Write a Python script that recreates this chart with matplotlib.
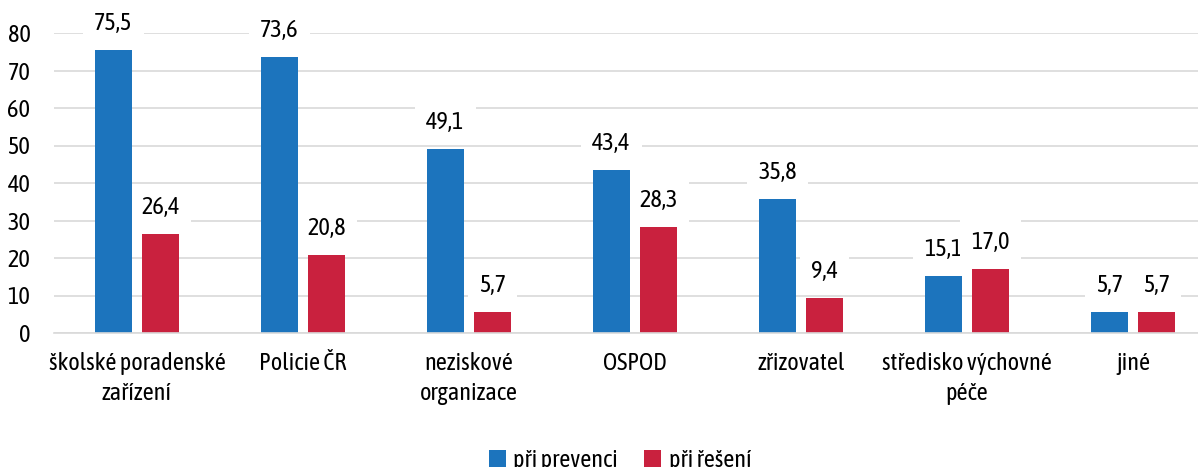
import matplotlib.pyplot as plt
import numpy as np

plt.rcParams['font.family'] = ['Asap Condensed', 'DejaVu Sans']

categories = ["školské poradenské\nzařízení", "Policie ČR", "neziskové\norganizace",
              "OSPOD", "zřizovatel", "středisko výchovné\npéče", "jiné"]
prevence = [75.5, 73.6, 49.1, 43.4, 35.8, 15.1, 5.7]
reseni = [26.4, 20.8, 5.7, 28.3, 9.4, 17.0, 5.7]
series_names = ["při prevenci", "při řešení"]

blue = "#1C74BD"
red = "#C9213E"

fig = plt.figure(figsize=(11.98, 4.67), dpi=100)
ax = fig.add_axes([54 / 1198, 134 / 467, 1162 / 1198, 300 / 467])

x = np.arange(len(categories))
w = 0.223
off = 0.1416
b1 = ax.bar(x - off, prevence, w, color=blue, label=series_names[0], zorder=2)
b2 = ax.bar(x + off, reseni, w, color=red, label=series_names[1], zorder=2)

# value labels with white box over the gridlines
for bars, vals in ((b1, prevence), (b2, reseni)):
    for rect, v in zip(bars, vals):
        ax.annotate(f"{v:.1f}".replace(".", ","),
                    (rect.get_x() + rect.get_width() / 2, v),
                    xytext=(0, 19), textcoords="offset points",
                    ha="center", va="center", fontsize=17.5, zorder=1.5,
                    bbox=dict(boxstyle="square,pad=0.45", fc="white", ec="none"))

ax.set_xlim(-0.5, len(categories) - 0.5)
ax.set_ylim(0, 80)
ax.set_yticks(range(0, 81, 10))
ax.yaxis.grid(True, color="#D9D9D9", linewidth=1.2, zorder=0)
ax.set_axisbelow(True)
for s in ["top", "right", "left"]:
    ax.spines[s].set_visible(False)
ax.spines["bottom"].set_color("#D9D9D9")
ax.spines["bottom"].set_linewidth(1.2)
ax.tick_params(axis="both", length=0, labelsize=17.5)
ax.tick_params(axis="y", pad=17)
ax.tick_params(axis="x", pad=14)
ax.set_xticks(x)
ax.set_xticklabels(categories, linespacing=1.35)

fig.legend(handles=[b1, b2], loc="center", bbox_to_anchor=(620 / 1198, 6 / 467),
           ncol=2, frameon=False, fontsize=17.5, handlelength=0.7, handleheight=0.7,
           handletextpad=0.3, columnspacing=1.1)

fig.savefig("out.png", dpi=100)
